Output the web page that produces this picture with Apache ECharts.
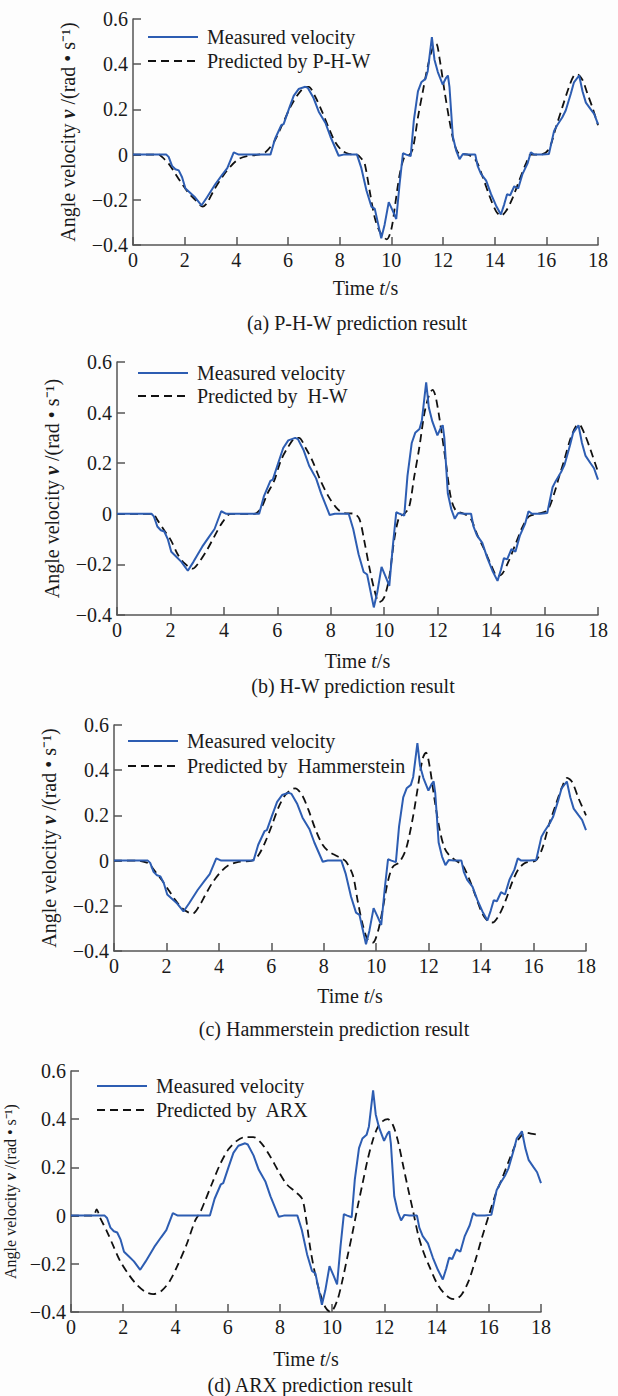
<!DOCTYPE html>
<html lang="en">
<head>
<meta charset="UTF-8">
<title>Angle velocity prediction results</title>
<script src="https://cdn.jsdelivr.net/npm/echarts@6/dist/echarts.min.js"></script>
<style>
  html, body { margin: 0; padding: 0; background: #fff; }
  #chart { width: 618px; height: 1396px; }
</style>
</head>
<body>
<div id="chart"></div>
<script>
// measured angle velocity (same record in all four panels), [t (s), v (rad/s)]
const measured = [
  [0, 0], [1.29, 0], [1.38, -0.01], [1.51, -0.05], [1.64, -0.065], [1.77, -0.07], [1.9, -0.1],
  [2.03, -0.15], [2.22, -0.17], [2.41, -0.19], [2.65, -0.225], [2.86, -0.19], [3.19, -0.13],
  [3.45, -0.09], [3.65, -0.06], [3.9, 0.01], [4.09, 0], [5.32, 0], [5.5, 0.07], [5.74, 0.13],
  [5.83, 0.135], [6.03, 0.2], [6.22, 0.26], [6.41, 0.29], [6.67, 0.3], [6.77, 0.295], [6.99, 0.25],
  [7.19, 0.19], [7.45, 0.14], [7.64, 0.08], [7.96, -0.005], [8.15, 0], [8.67, 0], [8.84, -0.06],
  [9.04, -0.16], [9.23, -0.23], [9.36, -0.24], [9.61, -0.37], [9.74, -0.31], [9.9, -0.21],
  [10.06, -0.25], [10.19, -0.285], [10.32, -0.13], [10.45, 0.006], [10.58, 0], [10.75, -0.007],
  [10.87, 0.15], [11.03, 0.28], [11.16, 0.32], [11.32, 0.335], [11.41, 0.37], [11.57, 0.52],
  [11.67, 0.42], [11.8, 0.365], [11.99, 0.31], [12.12, 0.34], [12.19, 0.35], [12.25, 0.3],
  [12.38, 0.08], [12.51, 0.018], [12.64, -0.02], [12.77, 0.003], [12.96, 0], [13.25, 0],
  [13.34, -0.05], [13.47, -0.085], [13.67, -0.115], [13.86, -0.175], [14.05, -0.225], [14.24, -0.265],
  [14.37, -0.22], [14.48, -0.175], [14.6, -0.18], [14.76, -0.14], [14.91, -0.15], [15.08, -0.085],
  [15.27, -0.04], [15.4, 0.01], [15.53, 0], [15.85, 0], [16.1, 0.003], [16.3, 0.105], [16.42, 0.13],
  [16.62, 0.165], [16.75, 0.195], [16.95, 0.27], [17.07, 0.32], [17.27, 0.35], [17.4, 0.28],
  [17.53, 0.23], [17.72, 0.2], [17.85, 0.18], [18, 0.135]
];

// (a) P-H-W prediction
const predPHW = [
  [0, 0], [1.0, 0], [1.12, -0.01], [1.38, -0.04], [1.64, -0.085], [1.9, -0.13], [2.15, -0.17],
  [2.41, -0.2], [2.7, -0.23], [2.86, -0.215], [3.12, -0.16], [3.45, -0.1], [3.77, -0.053],
  [4.09, -0.02], [4.41, -0.007], [4.86, 0], [5.12, 0.01], [5.45, 0.055], [5.77, 0.13], [6.09, 0.21],
  [6.35, 0.26], [6.61, 0.295], [6.8, 0.3], [7.06, 0.255], [7.32, 0.19], [7.57, 0.12], [7.83, 0.055],
  [8.09, 0.018], [8.35, 0.003], [8.67, 0], [8.86, -0.02], [8.97, -0.04], [9.16, -0.16], [9.36, -0.28],
  [9.55, -0.34], [9.82, -0.375], [10.0, -0.33], [10.15, -0.22], [10.32, -0.09], [10.51, -0.01],
  [10.71, 0], [10.84, 0.03], [11.03, 0.165], [11.22, 0.28], [11.41, 0.39], [11.61, 0.475],
  [11.74, 0.49], [11.86, 0.43], [12.06, 0.28], [12.25, 0.15], [12.44, 0.047], [12.64, 0.003],
  [12.96, 0], [13.28, -0.027], [13.54, -0.1], [13.79, -0.18], [14.05, -0.25], [14.24, -0.27],
  [14.44, -0.25], [14.7, -0.19], [14.95, -0.115], [15.21, -0.04], [15.4, 0], [15.79, 0],
  [16.1, 0.025], [16.37, 0.12], [16.62, 0.21], [16.88, 0.3], [17.07, 0.35], [17.2, 0.355],
  [17.4, 0.33], [17.59, 0.27], [17.78, 0.21], [18, 0.13]
];

// (b) H-W prediction
const predHW = [
  [0, 0], [1.33, 0], [1.52, -0.026], [1.77, -0.066], [2.02, -0.105], [2.27, -0.16], [2.52, -0.195],
  [2.83, -0.217], [3.01, -0.2], [3.33, -0.15], [3.64, -0.09], [3.95, -0.033], [4.26, 0], [5.13, 0],
  [5.38, 0.02], [5.63, 0.08], [5.88, 0.13], [6.13, 0.21], [6.38, 0.26], [6.69, 0.3], [6.81, 0.3],
  [7.06, 0.26], [7.31, 0.21], [7.62, 0.13], [7.93, 0.066], [8.24, 0.02], [8.49, 0.003], [8.87, 0],
  [9.07, -0.02], [9.25, -0.105], [9.44, -0.21], [9.63, -0.3], [9.81, -0.35], [10.0, -0.33],
  [10.19, -0.25], [10.37, -0.105], [10.56, -0.013], [10.75, 0], [10.93, 0.026], [11.12, 0.145],
  [11.31, 0.26], [11.5, 0.395], [11.68, 0.47], [11.81, 0.49], [11.93, 0.46], [12.12, 0.34],
  [12.31, 0.2], [12.49, 0.066], [12.68, 0.013], [12.99, 0], [13.24, -0.02], [13.49, -0.085],
  [13.74, -0.14], [13.99, -0.2], [14.24, -0.247], [14.42, -0.237], [14.67, -0.184], [14.92, -0.118],
  [15.17, -0.053], [15.42, -0.01], [15.73, 0], [16.1, 0.013], [16.36, 0.08], [16.54, 0.145],
  [16.73, 0.21], [16.98, 0.3], [17.17, 0.345], [17.29, 0.353], [17.48, 0.32], [17.73, 0.25],
  [18, 0.165]
];

// (c) Hammerstein prediction
const predHammerstein = [
  [0, 0], [0.88, 0], [1.07, -0.003], [1.32, -0.013], [1.58, -0.05], [1.83, -0.087], [2.08, -0.13],
  [2.34, -0.175], [2.59, -0.21], [2.85, -0.23], [3.0, -0.235], [3.23, -0.205], [3.48, -0.153],
  [3.74, -0.1], [4.05, -0.053], [4.37, -0.02], [4.75, -0.006], [5.26, 0], [5.51, 0.024],
  [5.77, 0.083], [6.02, 0.156], [6.28, 0.237], [6.53, 0.29], [6.79, 0.316], [6.91, 0.32],
  [7.17, 0.29], [7.42, 0.223], [7.67, 0.142], [7.93, 0.075], [8.18, 0.041], [8.44, 0.024],
  [8.69, 0.009], [8.86, -0.006], [9.11, -0.065], [9.3, -0.183], [9.49, -0.286], [9.68, -0.352],
  [9.87, -0.363], [10.06, -0.316], [10.25, -0.212], [10.44, -0.094], [10.63, -0.028], [10.89, -0.006],
  [11.14, 0.053], [11.39, 0.186], [11.58, 0.319], [11.77, 0.451], [11.9, 0.478], [12.03, 0.422],
  [12.22, 0.274], [12.41, 0.142], [12.59, 0.06], [12.78, 0.024], [13.04, 0], [13.29, -0.02],
  [13.54, -0.08], [13.8, -0.16], [14.05, -0.235], [14.28, -0.27], [14.43, -0.274], [14.68, -0.242],
  [14.94, -0.175], [15.19, -0.094], [15.44, -0.035], [15.7, -0.009], [16.08, 0], [16.33, 0.053],
  [16.58, 0.156], [16.84, 0.245], [17.09, 0.326], [17.28, 0.366], [17.47, 0.348], [17.72, 0.274],
  [18, 0.2]
];

// (d) ARX prediction
const predARX = [
  [0, 0], [0.86, 0], [0.98, 0.026], [1.11, -0.008], [1.37, -0.064], [1.62, -0.126], [1.88, -0.188],
  [2.2, -0.243], [2.52, -0.287], [2.84, -0.316], [3.15, -0.326], [3.47, -0.312], [3.79, -0.27],
  [4.11, -0.2], [4.43, -0.119], [4.75, -0.022], [4.94, 0.012], [5.13, 0.06], [5.39, 0.13],
  [5.71, 0.213], [6.03, 0.275], [6.35, 0.31], [6.67, 0.326], [6.98, 0.326], [7.31, 0.298],
  [7.62, 0.247], [7.94, 0.185], [8.26, 0.13], [8.58, 0.1], [8.85, 0.07], [9.0, -0.01], [9.16, -0.133],
  [9.35, -0.243], [9.55, -0.326], [9.74, -0.38], [9.94, -0.4], [10.19, -0.354], [10.39, -0.271],
  [10.58, -0.174], [10.77, -0.077], [10.97, 0.033], [11.16, 0.13], [11.35, 0.227], [11.55, 0.31],
  [11.74, 0.365], [11.94, 0.392], [12.13, 0.4], [12.32, 0.378], [12.52, 0.31], [12.71, 0.213],
  [12.9, 0.116], [13.1, 0.019], [13.29, -0.077], [13.48, -0.146], [13.74, -0.215], [14.0, -0.278],
  [14.26, -0.319], [14.52, -0.343], [14.71, -0.347], [14.97, -0.326], [15.23, -0.271], [15.48, -0.188],
  [15.74, -0.091], [16.0, 0], [16.26, 0.088], [16.52, 0.157], [16.77, 0.227], [17.03, 0.296],
  [17.23, 0.33], [17.42, 0.344], [17.61, 0.34], [17.81, 0.337]
];

const predictions = [predPHW, predHW, predHammerstein, predARX];
const predNames = ['Predicted by P-H-W', 'Predicted by  H-W', 'Predicted by  Hammerstein', 'Predicted by  ARX'];
const captions = ['(a) P-H-W prediction result', '(b) H-W prediction result',
  '(c) Hammerstein prediction result', '(d) ARX prediction result'];
const xRange = [0, 18], xStep = 2;
const yRange = [-0.4, 0.6], yStep = 0.2;

// where each panel sits on the page (px)
const panels = [
  { grid: { left: 133, top: 19, width: 465, height: 226 }, legend: { left: 147, top: 27, gap: 4 }, xGap: 33, yGap: 55, yFont: 20, cap: [357, 323] },
  { grid: { left: 117, top: 362, width: 481, height: 253 }, legend: { left: 137, top: 363, gap: 3 }, xGap: 36, yGap: 55, yFont: 20, cap: [353, 686] },
  { grid: { left: 114, top: 725, width: 472, height: 226 }, legend: { left: 127, top: 731, gap: 5 }, xGap: 35, yGap: 55, yFont: 20, cap: [334, 1029] },
  // last panel sits close to the left edge, so its y title is smaller to fit the margin
  { grid: { left: 71, top: 1071, width: 470, height: 241 }, legend: { left: 96, top: 1076, gap: 4 }, xGap: 37, yGap: 44, yFont: 16, cap: [310, 1385] }
];

const FONT = "'Liberation Serif', 'Times New Roman', serif";
const BLUE = '#2d5db2';
const AXIS = '#555';
const txt = { fontFamily: FONT, fontSize: 20, color: '#1a1a1a' };

function tickLabel(v) {
  if (Math.abs(v) < 1e-9) return '0';
  return (v < 0 ? '\u2212' : '') + Math.abs(v).toFixed(1);
}

var chart = echarts.init(document.getElementById('chart'), null, { renderer: 'svg' });

var option = {
  animation: false,
  backgroundColor: '#fdfdfd',
  grid: [], xAxis: [], yAxis: [], legend: [], series: [], graphic: []
};

panels.forEach(function (p, i) {
  var yName = Object.assign({}, txt, { fontSize: p.yFont, lineHeight: p.yFont });
  // keep the grid exactly where it is put, do not squeeze it to fit the labels
  option.grid.push(Object.assign({ outerBoundsMode: 'none', containLabel: false }, p.grid));
  option.xAxis.push({
    type: 'value', gridIndex: i, min: xRange[0], max: xRange[1], interval: xStep,
    axisLine: { show: true, onZero: false, lineStyle: { color: AXIS, width: 1.5 } },
    axisTick: { show: true, inside: true, length: 8, lineStyle: { color: AXIS, width: 1.5 } },
    splitLine: { show: false },
    axisLabel: Object.assign({ margin: 5 }, txt),
    name: '{a|Time }{b|t}{a|/s}', nameLocation: 'middle', nameGap: p.xGap,
    nameTextStyle: { rich: { a: txt, b: Object.assign({ fontStyle: 'italic' }, txt) } }
  });
  option.yAxis.push({
    type: 'value', gridIndex: i, min: yRange[0], max: yRange[1], interval: yStep,
    axisLine: { show: true, lineStyle: { color: AXIS, width: 1.5 } },
    axisTick: { show: true, inside: true, length: 8, lineStyle: { color: AXIS, width: 1.5 } },
    splitLine: { show: false },
    axisLabel: Object.assign({ margin: 5, formatter: tickLabel }, txt),
    name: '{a|Angle velocity }{b|v}{a| /(rad \u2022 s\u207B\u00B9)}', nameLocation: 'middle', nameGap: p.yGap,
    nameTextStyle: { rich: { a: yName, b: Object.assign({ fontStyle: 'italic', fontWeight: 'bold' }, yName) } }
  });
  option.legend.push({
    orient: 'vertical', left: p.legend.left, top: p.legend.top, padding: 0,
    itemWidth: 50, itemHeight: 14, itemGap: p.legend.gap,
    // only the line sample, no marker dot
    itemStyle: { color: 'rgba(0,0,0,0)', borderColor: 'rgba(0,0,0,0)', borderWidth: 0 },
    textStyle: Object.assign({ lineHeight: 20, padding: [0, 0, 0, 4] }, txt),
    data: ['Measured velocity', predNames[i]]
  });
  option.series.push({
    type: 'line', name: predNames[i], xAxisIndex: i, yAxisIndex: i,
    data: predictions[i], symbol: 'none', smooth: 0.3, z: 2,
    lineStyle: { color: '#111', width: 1.8, type: [8, 5] }, itemStyle: { color: '#111' }
  });
  option.series.push({
    type: 'line', name: 'Measured velocity', xAxisIndex: i, yAxisIndex: i,
    data: measured, symbol: 'none', z: 3,
    lineStyle: { color: BLUE, width: 2 }, itemStyle: { color: BLUE }
  });
  option.graphic.push({
    type: 'text', x: p.cap[0], y: p.cap[1],
    style: { text: captions[i], font: '20px ' + FONT, fill: '#1a1a1a', textAlign: 'center', textVerticalAlign: 'middle' }
  });
});

chart.setOption(option);
</script>
</body>
</html>
